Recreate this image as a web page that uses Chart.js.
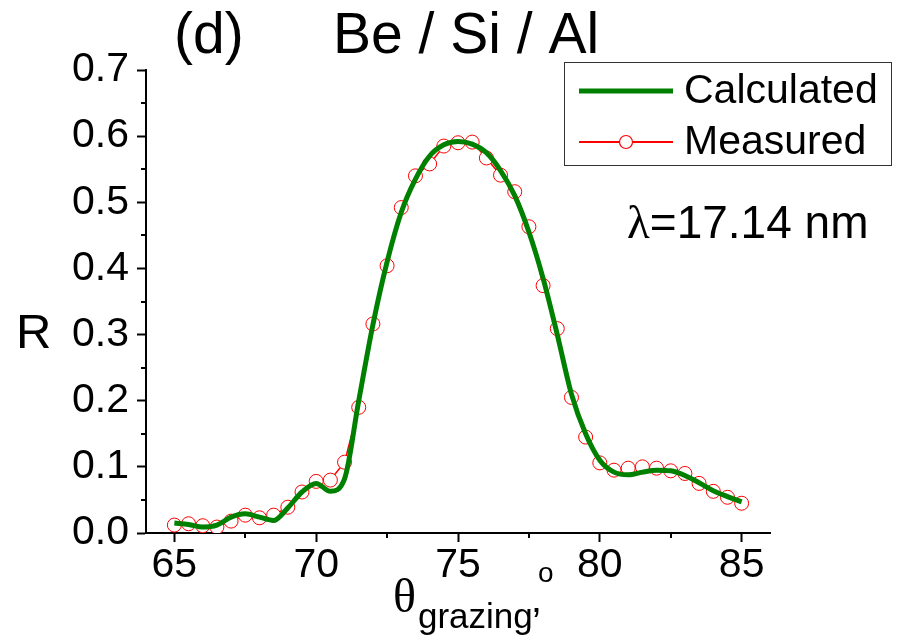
<!DOCTYPE html>
<html>
<head>
<meta charset="utf-8">
<script src="https://cdn.jsdelivr.net/npm/chart.js@4"></script>
<style>
  html, body { margin: 0; padding: 0; background: #fff; }
  canvas { display: block; }
</style>
</head>
<body>
<canvas id="reflChart" width="901" height="640"></canvas>
<script>
// grazing angle, degrees
const angles = [65, 65.5, 66, 66.5, 67, 67.5, 68, 68.5, 69, 69.5,
                70, 70.5, 71, 71.5, 72, 72.5, 73, 73.5, 74, 74.5,
                75, 75.5, 76, 76.5, 77, 77.5, 78, 78.5, 79, 79.5,
                80, 80.5, 81, 81.5, 82, 82.5, 83, 83.5, 84, 84.5, 85];

const measured = [0.012, 0.014, 0.011, 0.009, 0.018, 0.027, 0.023, 0.027, 0.039, 0.062,
                  0.078, 0.080, 0.107, 0.190, 0.316, 0.404, 0.492, 0.540, 0.558, 0.585,
                  0.590, 0.591, 0.567, 0.541, 0.516, 0.463, 0.374, 0.309, 0.205, 0.145,
                  0.106, 0.095, 0.098, 0.100, 0.098, 0.094, 0.090, 0.075, 0.063, 0.054, 0.045];

const calculated = [0.015, 0.013, 0.009, 0.012, 0.024, 0.029, 0.024, 0.019, 0.038, 0.062,
                    0.075, 0.063, 0.082, 0.200, 0.315, 0.410, 0.485, 0.535, 0.570, 0.587,
                    0.592, 0.588, 0.575, 0.548, 0.510, 0.455, 0.385, 0.300, 0.210, 0.150,
                    0.110, 0.092, 0.088, 0.092, 0.095, 0.094, 0.087, 0.076, 0.064, 0.055, 0.047];

const xTicks = [65, 70, 75, 80, 85];
const xMinor = [67.5, 72.5, 77.5, 82.5];
const yTicks = [0, 0.1, 0.2, 0.3, 0.4, 0.5, 0.6, 0.7];
const yMinor = [0.05, 0.15, 0.25, 0.35, 0.45, 0.55, 0.65];

const seriesNames = ['Calculated', 'Measured'];

const SANS = '"Liberation Sans", Arial, sans-serif';
const SERIF = '"Liberation Serif", "Times New Roman", serif';

// minor ticks, titles, annotation text and the boxed legend
const decorations = {
    id: 'decorations',
    afterDraw(chart) {
        const ctx = chart.ctx;
        const xs = chart.scales.x, ys = chart.scales.y;
        const area = chart.chartArea;
        ctx.save();

        ctx.strokeStyle = '#000';
        ctx.lineWidth = 2;
        yMinor.forEach(v => {
            const py = Math.round(ys.getPixelForValue(v));
            ctx.beginPath();
            ctx.moveTo(area.left - 5, py);
            ctx.lineTo(area.left, py);
            ctx.stroke();
        });
        xMinor.forEach(v => {
            const px = Math.round(xs.getPixelForValue(v));
            ctx.beginPath();
            ctx.moveTo(px, area.bottom);
            ctx.lineTo(px, area.bottom + 5);
            ctx.stroke();
        });

        ctx.fillStyle = '#000';
        ctx.textBaseline = 'alphabetic';
        ctx.textAlign = 'left';

        // title
        ctx.font = '57px ' + SANS;
        ctx.fillText('(d)', 174, 53);
        ctx.fillText('Be / Si / Al', 333, 53);

        // wavelength note
        ctx.font = '47px ' + SERIF;
        ctx.fillText('\u03BB', 627, 238);
        const lw = ctx.measureText('\u03BB').width;
        ctx.font = '46px ' + SANS;
        ctx.fillText('=17.14 nm', 627 + lw, 238);

        // y title
        ctx.font = '49px ' + SANS;
        ctx.fillText('R', 16, 348);

        // x title
        ctx.font = '48px ' + SERIF;
        ctx.fillText('\u03B8', 393, 612);
        ctx.font = '35px ' + SANS;
        ctx.fillText('grazing', 418, 628);
        ctx.font = '40px ' + SANS;
        ctx.fillText('\u2019', 532, 636);
        ctx.font = '28px ' + SANS;
        ctx.fillText('o', 538, 582);

        // legend
        ctx.strokeStyle = '#333';
        ctx.lineWidth = 1;
        ctx.strokeRect(564.5, 62.5, 327, 103);

        ctx.strokeStyle = '#008000';
        ctx.lineWidth = 5;
        ctx.beginPath();
        ctx.moveTo(579, 91);
        ctx.lineTo(673, 91);
        ctx.stroke();

        ctx.strokeStyle = '#ff0000';
        ctx.lineWidth = 2;
        ctx.beginPath();
        ctx.moveTo(579, 142);
        ctx.lineTo(673, 142);
        ctx.stroke();
        ctx.fillStyle = '#fff';
        ctx.lineWidth = 1.2;
        ctx.beginPath();
        ctx.arc(626, 142, 6.5, 0, Math.PI * 2);
        ctx.fill();
        ctx.stroke();

        ctx.fillStyle = '#000';
        ctx.font = '41px ' + SANS;
        ctx.textBaseline = 'middle';
        ctx.fillText(seriesNames[0], 684, 92);
        ctx.fillText(seriesNames[1], 684, 143);

        ctx.restore();
    }
};

const ctx = document.getElementById('reflChart').getContext('2d');
new Chart(ctx, {
    type: 'line',
    data: {
        datasets: [{
            label: seriesNames[0],
            data: angles.map((a, i) => ({ x: a, y: calculated[i] })),
            borderColor: '#008000',
            borderWidth: 5,
            pointRadius: 0,
            cubicInterpolationMode: 'monotone',
            fill: false,
            order: 0
        }, {
            label: seriesNames[1],
            data: angles.map((a, i) => ({ x: a, y: measured[i] })),
            borderColor: '#ff0000',
            borderWidth: 1.5,
            pointRadius: 7,
            pointBorderWidth: 1,
            pointBorderColor: '#ff0000',
            pointBackgroundColor: '#ffffff',
            tension: 0,
            fill: false,
            order: 1
        }]
    },
    options: {
        responsive: false,
        animation: false,
        layout: { padding: { top: 70, right: 131, left: 0, bottom: 0 } },
        plugins: {
            legend: { display: false },
            tooltip: { enabled: false },
            title: { display: false }
        },
        scales: {
            x: {
                type: 'linear',
                min: 64,
                max: 86,
                afterBuildTicks: s => { s.ticks = xTicks.map(v => ({ value: v })); },
                afterFit: s => { s.height = 107; },
                border: { color: '#000', width: 2 },
                grid: { drawOnChartArea: false, tickLength: 9, tickColor: '#000', tickWidth: 2 },
                ticks: {
                    color: '#000',
                    padding: -1,
                    maxRotation: 0,
                    font: { family: SANS, size: 41 }
                }
            },
            y: {
                type: 'linear',
                min: 0,
                max: 0.7,
                afterBuildTicks: s => { s.ticks = yTicks.map(v => ({ value: v })); },
                afterFit: s => { s.width = 146; },
                border: { color: '#000', width: 2 },
                grid: { drawOnChartArea: false, tickLength: 9, tickColor: '#000', tickWidth: 2 },
                ticks: {
                    color: '#000',
                    padding: 8,
                    font: { family: SANS, size: 41 },
                    callback: v => v.toFixed(1)
                }
            }
        }
    },
    plugins: [decorations]
});
</script>
</body>
</html>
